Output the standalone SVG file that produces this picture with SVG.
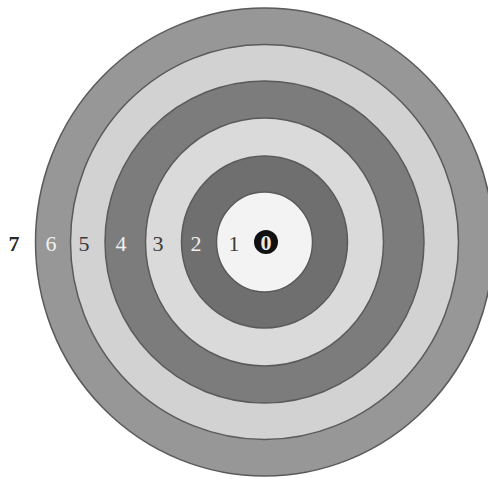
<svg xmlns="http://www.w3.org/2000/svg" width="488" height="479" viewBox="0 0 488 479">
<style>
.ring{stroke:#5a5a5a;stroke-width:1.5}
.lbl{font-family:"Liberation Serif",serif;font-size:22px;text-anchor:middle}
.dk{fill:#3a3a3a}
.lt{fill:#f0f0f0}
</style>
<rect width="488" height="479" fill="#ffffff"/>
<g id="rings">
<ellipse id="ring6" class="ring" cx="264.5" cy="242" rx="229" ry="234" fill="#979797"/>
<ellipse id="ring5" class="ring" cx="264.5" cy="242" rx="194" ry="197.5" fill="#d2d2d2"/>
<ellipse id="ring4" class="ring" cx="264.5" cy="242" rx="159.5" ry="161" fill="#7c7c7c"/>
<ellipse id="ring3" class="ring" cx="264.5" cy="242" rx="119" ry="124" fill="#dadada"/>
<ellipse id="ring2" class="ring" cx="264.5" cy="242" rx="83" ry="86" fill="#6f6f6f"/>
<ellipse id="ring1" class="ring" cx="264.5" cy="242" rx="48" ry="50" fill="#f3f3f3"/>
<circle id="ring0" cx="266" cy="242" r="12" fill="#111111"/>
</g>
<g id="labels">
<text class="lbl" x="14" y="251" fill="#2a2a2a" font-weight="bold">7</text>
<text class="lbl lt" x="51" y="251">6</text>
<text class="lbl dk" x="84" y="251">5</text>
<text class="lbl lt" x="121" y="251">4</text>
<text class="lbl dk" x="158" y="251">3</text>
<text class="lbl lt" x="196" y="251">2</text>
<text class="lbl dk" x="234" y="251">1</text>
<text class="lbl" x="266" y="250" fill="#e8e8e8" font-weight="bold" font-size="20px">0</text>
</g>
</svg>
